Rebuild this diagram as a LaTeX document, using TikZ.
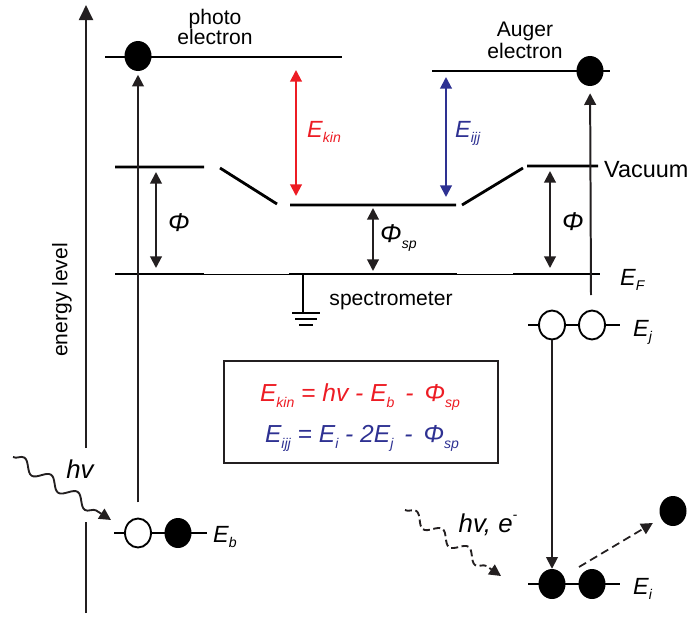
\documentclass[tikz,border=0pt]{standalone}
\usepackage{fontspec}
\setmainfont{Liberation Sans}
\usetikzlibrary{arrows.meta,shapes.geometric,decorations.pathmorphing,positioning}
\definecolor{kinred}{HTML}{ED1C24}
\definecolor{augblue}{HTML}{2E3192}
\definecolor{ink}{HTML}{231F20}
\newcommand{\lsub}[1]{\raisebox{-0.45ex}{\fontsize{12}{12}\selectfont\itshape #1}}
\newcommand{\lsup}[1]{\raisebox{0.95ex}{\fontsize{12}{12}\selectfont #1}}
\tikzset{
  level/.style={line width=2.4pt,line cap=butt},
  thinlevel/.style={line width=0.8pt},
  orbit/.style={line width=1.8pt},
  wire/.style={line width=1.6pt},
  axis/.style={line width=2pt,ink},
  arr/.style={line width=1.7pt,ink,-{Triangle[length=10pt,width=10pt]}},
  darr/.style={line width=1.7pt,ink,{Triangle[length=10pt,width=10pt]}-{Triangle[length=10pt,width=10pt]}},
  efull/.style={ellipse,fill=black,minimum width=0.81cm,minimum height=0.9cm,inner sep=0pt},
  ehole/.style={ellipse,draw,line width=1.6pt,fill=white,minimum width=0.78cm,minimum height=0.87cm,inner sep=0pt},
  photon/.style={decorate,decoration={snake,amplitude=1.7mm,segment length=9.5mm,post length=3mm},line width=1.6pt,ink,-{Triangle[length=10pt,width=10pt]}},
  tag/.style={font=\fontsize{18}{16}\selectfont,inner sep=0pt},
  sym/.style={font=\fontsize{20}{22}\selectfont\itshape,inner sep=0pt},
  phi/.style={font=\fontsize{22}{24}\selectfont\itshape,inner sep=0pt},
  eqn/.style={font=\fontsize{21}{24}\selectfont\itshape,inner sep=0pt},
}
\begin{document}
\begin{tikzpicture}[x=0.03cm,y=-0.03cm]
  \useasboundingbox (0,0) rectangle (699,619);
  % energy axis
  \coordinate (axbot) at (86,613);
  \coordinate (axgapb) at (86,522);
  \coordinate (axgapt) at (86,448);
  \coordinate (axtop) at (86,5);
  \draw[axis] (axbot) -- (axgapb);
  \draw[axis,-{Triangle[length=13pt,width=12pt]}] (axgapt) -- (axtop);
  \node[tag,rotate=90] (axlab) at (62,300) {energy level};
  % levels
  \draw[level] (105,57) -- (342,57);
  \draw[level] (432,71) -- (610,71);
  \draw[level] (115,167) -- (204,167) (220,168) -- (277,204) (290,205) -- (456,205)
    (462,205) -- (523,168) (527,166) -- (598,166);
  \draw[thinlevel] (115,274) -- (600,274);
  \draw[level] (115,274) -- (204,274) (289,274) -- (457,274) (513,274) -- (600,274);
  % ground
  \draw[wire] (303,274) -- (303,313);
  \draw[wire] (292,313) -- (320,313) (295,319) -- (317,319) (299,325) -- (313,325);
  % orbitals
  \draw[orbit] (114,533) -- (207,533);
  \draw[orbit] (528,325) -- (620,325);
  \draw[orbit] (528,584) -- (620,584);
  % electrons
  \node[efull] (pe) at (138,56) {};
  \node[efull] (ae) at (590,71) {};
  \node[ehole] (eb1) at (138,533) {};
  \node[efull] (eb2) at (178,533) {};
  \node[ehole] (ej1) at (552,325) {};
  \node[ehole] (ej2) at (592,325) {};
  \node[efull] (ei1) at (552,584) {};
  \node[efull] (ei2) at (592,584) {};
  \node[efull] (free) at (673,511) {};
  % transitions
  \coordinate (augfoot) at (591,295);
  \coordinate (kick) at (579,567);
  \draw[arr,shorten <=13pt,shorten >=3pt] (eb1) -- (pe);
  \draw[arr,shorten >=6pt] (augfoot) -- (ae);
  \draw[arr,line width=1.5pt] (ej1) -- (ei1);
  \draw[arr,line width=1.5pt,dashed,dash pattern=on 7pt off 4pt,shorten >=8pt] (kick) -- (free);
  % excitation
  \coordinate (hvL0) at (13,457);
  \coordinate (hvL1) at (111,520);
  \coordinate (hvR0) at (405,510);
  \coordinate (hvR1) at (501,576);
  \draw[photon] (hvL0) -- (hvL1);
  \draw[photon,dash pattern=on 6pt off 3pt] (hvR0) -- (hvR1);
  \node[phi] (hvLlab) at (80,469) {hv};
  \node[phi] (hvRlab) at (488,525) {hv, e\lsup{-}};
  % work functions
  \coordinate (phiL0) at (156,172);  \coordinate (phiL1) at (156,268);
  \coordinate (phiS0) at (373,208);  \coordinate (phiS1) at (373,271);
  \coordinate (phiR0) at (550,171);  \coordinate (phiR1) at (550,268);
  \draw[darr] (phiL0) -- (phiL1);
  \draw[darr] (phiS0) -- (phiS1);
  \draw[darr] (phiR0) -- (phiR1);
  \node[phi] (phiLlab) at (179,223) {Φ};
  \node[phi] (phiRlab) at (573,222) {Φ};
  \node[phi,anchor=west] (phiSlab) at (380,238) {Φ\lsub{sp}};
  % kinetic energies
  \coordinate (ekin0) at (296,70);  \coordinate (ekin1) at (296,196);
  \coordinate (eijj0) at (446,77);  \coordinate (eijj1) at (446,197);
  \draw[darr,kinred] (ekin0) -- (ekin1);
  \draw[darr,augblue] (eijj0) -- (eijj1);
  \node[sym,text=kinred,anchor=base west] (ekinlab) at (307,137) {E\lsub{kin}};
  \node[sym,text=augblue,anchor=base west] (eijjlab) at (455,137) {E\lsub{ijj}};
  % texts
  \node[tag,anchor=base] (pelab1) at (215,25) {photo};
  \node[tag,anchor=base] (pelab2) at (215,45) {electron};
  \node[tag,anchor=base] (aelab1) at (525,37) {Auger};
  \node[tag,anchor=base] (aelab2) at (525,59) {electron};
  \node[tag,font=\fontsize{20}{22}\selectfont,anchor=base west] (vaclab) at (604,177) {Vacuum};
  \node[tag,anchor=base] (speclab) at (391,305) {spectrometer};
  \node[sym,anchor=base west] (eflab) at (620,285) {E\lsub{F}};
  \node[sym,anchor=base west] (eblab) at (213,542) {E\lsub{b}};
  \node[sym,anchor=base west] (ejlab) at (633,336) {E\lsub{j}};
  \node[sym,anchor=base west] (eilab) at (633,594) {E\lsub{i}};
  % equations
  \node[draw,line width=2pt,ink,minimum width=8.22cm,minimum height=3.06cm] (eqbox) at (361,412) {};
  \node[eqn,text=kinred] (eqkin) at (360,397) {E\lsub{kin} = hv - E\lsub{b}\, - \,Φ\lsub{sp}};
  \node[eqn,text=augblue] (eqijj) at (362,438) {E\lsub{ijj} = E\lsub{i} - 2E\lsub{j}\, - \,Φ\lsub{sp}};
\end{tikzpicture}
\end{document}
